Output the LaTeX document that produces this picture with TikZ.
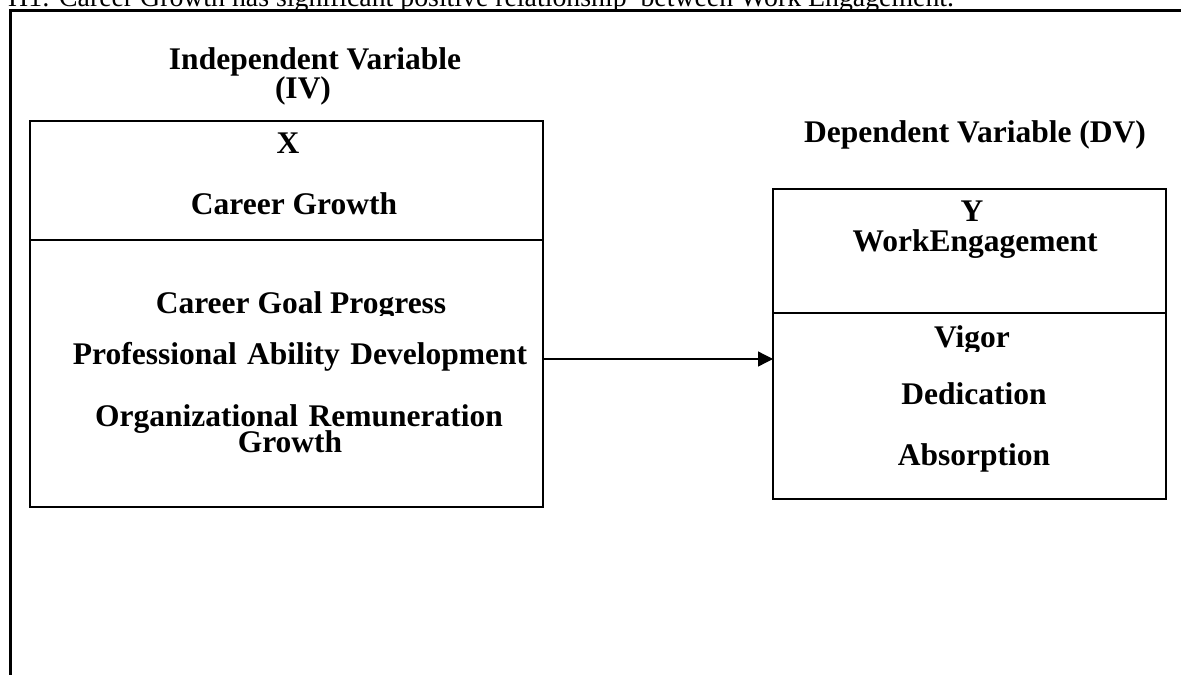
\documentclass[tikz,border=0pt]{standalone}
\usepackage{fontspec}
\setmainfont{Liberation Serif}
\usetikzlibrary{arrows.meta}
\newcommand{\widewords}{\spaceskip=0.33em\relax}
\begin{document}
\begin{tikzpicture}[x=1pt,y=-1pt,
  lbl/.style={font=\fontsize{31.5}{31.5}\selectfont\bfseries, inner sep=0pt, outer sep=0pt, anchor=base},
  titletext/.style={font=\fontsize{27.8}{27.8}\selectfont, inner sep=0pt, anchor=base west},
  part/.style={draw, line width=2.8pt, inner sep=0pt, outer sep=0pt},
  conn/.style={line width=1.3pt, -{Triangle[length=15pt,width=15pt]}},
  framestyle/.style={line width=3pt}]
\useasboundingbox (0,0) rectangle (1181,675);
\clip (0,0) rectangle (1181,675);
% heading (cut at the top)
\node[titletext] (h1) at (8,6) {H1: Career Growth has significant positive relationship\ \ between Work Engagement.};
% outer frame
\draw[framestyle] (1181,10) -- (10,10) -- (10,675);
% variable headings
\node[lbl] (ivl1) at (315,69) {Independent Variable};
\node[lbl] (ivl2) at (303,98) {(IV)};
\node[lbl] (dvl) at (975,142) {Dependent Variable (DV)};
% boxes
\node[part, minimum width=513pt, minimum height=119pt] (ivtop) at (286.5,180.5) {};
\node[part, minimum width=513pt, minimum height=267pt] (ivbot) at (286.5,373.5) {};
\node[part, minimum width=393pt, minimum height=124pt] (dvtop) at (969.5,251) {};
\node[part, minimum width=393pt, minimum height=186pt] (dvbot) at (969.5,406) {};
% left box texts
\node[lbl] (x) at (288,153) {X};
\node[lbl] (cg) at (294,214) {Career Growth};
\begin{scope}
  \clip (30,240) rectangle (543,315);
  \node[lbl] (cgp) at (301,313) {Career Goal Progress};
\end{scope}
\node[lbl] (pad) at (300,364) {\widewords Professional Ability Development};
\node[lbl] (orr) at (299,426) {\widewords Organizational Remuneration};
\node[lbl] (gr) at (290,452) {Growth};
% right box texts
\node[lbl] (y) at (972,221) {Y};
\node[lbl] (we) at (975,251) {WorkEngagement};
\begin{scope}
  \clip (773,313) rectangle (1166,351);
  \node[lbl] (vig) at (972,347) {Vigor};
\end{scope}
\node[lbl] (ded) at (974,404) {Dedication};
\node[lbl] (abs) at (974,465) {Absorption};
% connector
\coordinate (arrowy) at (0,359);
\draw[conn] (ivbot.east |- arrowy) -- (dvbot.west |- arrowy);
\end{tikzpicture}
\end{document}
